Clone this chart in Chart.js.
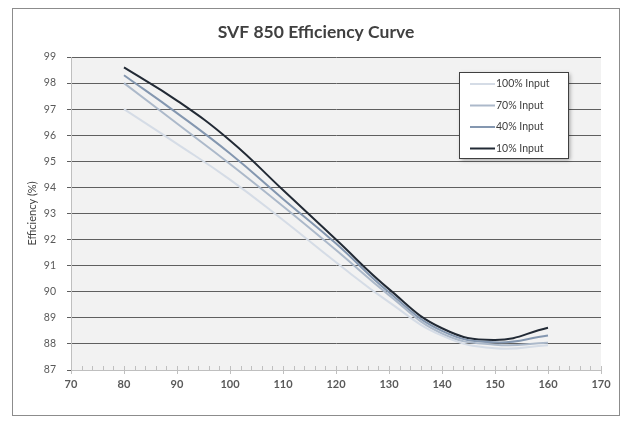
<!DOCTYPE html>
<html>
<head>
<meta charset="utf-8">
<script src="https://cdn.jsdelivr.net/npm/chart.js@4"></script>
<style>
  html, body { margin: 0; padding: 0; background: #fff; }
  #wrap { width: 629px; height: 424px; position: relative; }
</style>
</head>
<body>
<div id="wrap"><canvas id="chart" width="629" height="424"></canvas></div>
<script>
// load points (x) and efficiency per input level
const loadPoints = [80, 90, 100, 110, 120, 130, 140, 150, 160];
const input100 = [97.0, 95.67, 94.3, 92.75, 91.13, 89.6, 88.32, 87.83, 87.95];
const input70 = [98.0, 96.45, 94.9, 93.28, 91.6, 89.87, 88.4, 87.97, 88.04];
const input40 = [98.3, 96.85, 95.3, 93.56, 91.85, 89.98, 88.5, 88.06, 88.32];
const input10 = [98.6, 97.33, 95.8, 93.9, 92.0, 90.1, 88.6, 88.15, 88.62];

const seriesNames = ['100% Input', '70% Input', '40% Input', '10% Input'];
const seriesColors = ['#d5dce6', '#acb9ca', '#8497b0', '#222a35'];
const chartTitle = 'SVF 850 Efficiency Curve';

const FONT = 'Lato, "Liberation Sans", sans-serif';

function toPoints(vals) {
    return vals.map((v, i) => ({ x: loadPoints[i], y: v }));
}

const allSeries = [input100, input70, input40, input10];

// frame, title centred on the whole frame, plot background
const framePlugin = {
    id: 'frame',
    beforeDraw(chart) {
        const c = chart.ctx;
        const a = chart.chartArea;
        c.save();
        c.fillStyle = '#ffffff';
        c.fillRect(0, 0, chart.width, chart.height);
        c.strokeStyle = '#8c8c8c';
        c.lineWidth = 1;
        c.strokeRect(12.5, 8.5, 607, 407);
        c.fillStyle = '#f2f2f2';
        c.fillRect(a.left, a.top, a.right - a.left, a.bottom - a.top);
        c.fillStyle = '#404040';
        c.font = 'bold 17.5px ' + FONT;
        c.textAlign = 'center';
        c.textBaseline = 'middle';
        c.fillText(chartTitle, 316, 32);
        c.restore();
    }
};

// major / minor tick marks on x axis
const xTicksPlugin = {
    id: 'xTickMarks',
    afterDraw(chart) {
        const c = chart.ctx;
        const xs = chart.scales.x;
        const y0 = chart.chartArea.bottom;
        c.save();
        c.strokeStyle = '#bfbfbf';
        c.lineWidth = 1;
        for (let v = 70; v <= 170; v += 2) {
            const px = Math.round(xs.getPixelForValue(v)) + 0.5;
            const major = v % 10 === 0;
            c.beginPath();
            c.moveTo(px, y0 - 4);
            c.lineTo(px, major ? y0 + 4 : y0);
            c.stroke();
        }
        c.restore();
    }
};

// boxed legend sitting inside the plot
const boxLegendPlugin = {
    id: 'boxLegend',
    afterDraw(chart) {
        const c = chart.ctx;
        const a = chart.chartArea;
        const bx = a.left + 388, by = a.top + 15, bw = 109, bh = 86;
        c.save();
        c.shadowColor = 'rgba(0,0,0,0.35)';
        c.shadowBlur = 4;
        c.shadowOffsetX = 2;
        c.shadowOffsetY = 2;
        c.fillStyle = '#ffffff';
        c.fillRect(bx, by, bw, bh);
        c.restore();
        c.save();
        c.strokeStyle = '#404040';
        c.lineWidth = 1;
        c.strokeRect(bx + 0.5, by + 0.5, bw, bh);
        c.font = '10.5px ' + FONT;
        c.fillStyle = '#404040';
        c.textBaseline = 'middle';
        chart.data.datasets.forEach((ds, i) => {
            const ly = by + 12 + i * 21.5;
            c.strokeStyle = ds.borderColor;
            c.lineWidth = 2;
            c.beginPath();
            c.moveTo(bx + 11, ly);
            c.lineTo(bx + 36, ly);
            c.stroke();
            c.fillText(ds.label, bx + 37, ly);
        });
        c.restore();
    }
};

new Chart(document.getElementById('chart'), {
    type: 'line',
    data: {
        datasets: allSeries.map((vals, i) => ({
            label: seriesNames[i],
            data: toPoints(vals),
            borderColor: seriesColors[i],
            backgroundColor: seriesColors[i],
            borderWidth: 2,
            pointRadius: 0,
            tension: 0.45,
            fill: false
        }))
    },
    options: {
        responsive: false,
        animation: false,
        layout: {
            padding: { top: 57, left: 14, right: 28, bottom: 24 }
        },
        plugins: {
            legend: { display: false },
            tooltip: { enabled: false },
            title: { display: false }
        },
        scales: {
            x: {
                type: 'linear',
                min: 70,
                max: 170,
                afterFit(scale) { scale.height = 30; },
                ticks: {
                    stepSize: 10,
                    color: '#595959',
                    padding: 8,
                    font: { family: FONT, size: 11, weight: 'bold' }
                },
                grid: { display: false, drawTicks: false },
                border: { display: true, color: '#bfbfbf' }
            },
            y: {
                min: 87,
                max: 99,
                afterFit(scale) { scale.width = 57; },
                ticks: {
                    stepSize: 1,
                    color: '#595959',
                    padding: 11,
                    font: { family: FONT, size: 10.5 }
                },
                grid: { color: '#5f5f5f', lineWidth: 1, tickLength: 4 },
                border: { display: true, color: '#bfbfbf' },
                title: {
                    display: true,
                    text: 'Efficiency (%)',
                    color: '#404040',
                    font: { family: FONT, size: 11 },
                    padding: { top: 12, bottom: 0 }
                }
            }
        }
    },
    plugins: [framePlugin, xTicksPlugin, boxLegendPlugin]
});
</script>
</body>
</html>
